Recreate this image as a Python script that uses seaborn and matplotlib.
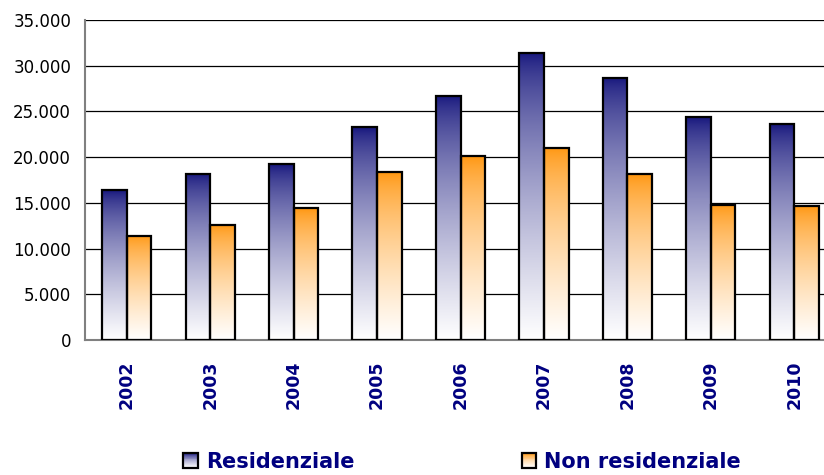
import numpy as np
import pandas as pd
import matplotlib
matplotlib.use("Agg")
import matplotlib.pyplot as plt
from matplotlib.patches import Rectangle
from matplotlib.legend_handler import HandlerBase
import seaborn as sns

years = ["2002", "2003", "2004", "2005", "2006", "2007", "2008", "2009", "2010"]
residenziale = [16400, 18200, 19250, 23250, 26700, 31400, 28700, 24350, 23600]
non_residenziale = [11400, 12600, 14400, 18350, 20100, 21050, 18150, 14800, 14650]
series = ["Residenziale", "Non residenziale"]
y_ticks = [0, 5000, 10000, 15000, 20000, 25000, 30000, 35000]

NAVY = "#000080"
top_colors = {"Residenziale": (0.07, 0.07, 0.48), "Non residenziale": (1.0, 0.58, 0.04)}

df = pd.DataFrame({
    "anno": years * 2,
    "valore": residenziale + non_residenziale,
    "tipo": [series[0]] * len(years) + [series[1]] * len(years),
})

sns.set_style("white")
plt.rcParams["font.family"] = ["DejaVu Sans"]

fig = plt.figure(figsize=(8.24, 4.75), dpi=100)
ax = fig.add_axes([85 / 824, 135 / 475, 751 / 824, 320 / 475])

sns.barplot(data=df, x="anno", y="valore", hue="tipo", hue_order=series,
            order=years, width=0.59, ax=ax, legend=False,
            palette=[top_colors[s] for s in series], saturation=1)


def blend(color, t):
    # t = 0 -> full colour (top), t = 1 -> white (bottom); eased towards white
    w = np.asarray(t) ** 0.65
    c = np.array(color)
    return c * (1 - w)[..., None] + np.ones(3) * w[..., None]


def gradient(color, n=256):
    t = np.linspace(0, 1, n)
    return blend(color, t)[:, None, :]


for name, container in zip(series, ax.containers):
    img = gradient(top_colors[name])
    for patch in container:
        x0, w, h = patch.get_x(), patch.get_width(), patch.get_height()
        im = ax.imshow(img, extent=[x0, x0 + w, 0, h], aspect="auto",
                       origin="upper", zorder=2, interpolation="bilinear")
        im.set_clip_path(patch)
        patch.set_facecolor("none")
        patch.set_edgecolor("black")
        patch.set_linewidth(1.6)
        patch.set_zorder(3)

ax.set_xlim(-0.5, len(years) - 0.5)
ax.set_ylim(0, 35000)
ax.set_yticks(y_ticks)
ax.set_yticklabels([f"{v:,}".replace(",", ".") for v in y_ticks], fontsize=12, color="black")
ax.set_xticks(range(len(years)))
ax.set_xticklabels(years, rotation=90, fontsize=12.5, fontweight="bold", color=NAVY,
                   va="top", ha="center")
ax.tick_params(axis="x", which="major", length=0, pad=15)
ax.set_xticks(np.arange(-0.5, len(years), 1.0), minor=True)
ax.tick_params(axis="x", which="minor", length=6, width=1.2, color="#808080", direction="out")
ax.tick_params(axis="y", length=6, width=1.2, color="#808080", direction="out", pad=4)
ax.set_xlabel("")
ax.set_ylabel("")

ax.yaxis.grid(True, color="black", linewidth=0.9)
ax.set_axisbelow(True)
for side in ["top", "right"]:
    ax.spines[side].set_visible(False)
for side in ["left", "bottom"]:
    ax.spines[side].set_color("#808080")
    ax.spines[side].set_linewidth(1.5)


class GradientBoxHandler(HandlerBase):
    def __init__(self, color):
        super().__init__()
        self.color = color

    def create_artists(self, legend, orig_handle, xdescent, ydescent,
                       width, height, fontsize, trans):
        artists = []
        n = 16
        side = height
        x0 = -xdescent + (width - side) / 2
        y0 = -ydescent
        for i in range(n):
            t = 1 - i / (n - 1)  # bottom stripe is white
            col = blend(self.color, np.array([t]))[0]
            artists.append(Rectangle((x0, y0 + side * i / n), side, side / n,
                                     facecolor=col, edgecolor="none", transform=trans))
        artists.append(Rectangle((x0, y0), side, side, facecolor="none",
                                 edgecolor="black", linewidth=1.6, transform=trans))
        return artists


handles = [Rectangle((0, 0), 1, 1) for _ in series]
leg = fig.legend(handles, series, loc="center", bbox_to_anchor=(0.561, 0.028), ncol=2,
                 frameon=False, handlelength=0.72, handleheight=0.72, handletextpad=0.38,
                 columnspacing=8.0,
                 handler_map={h: GradientBoxHandler(top_colors[s]) for h, s in zip(handles, series)},
                 prop={"size": 15, "weight": "bold"})
for txt in leg.get_texts():
    txt.set_color(NAVY)

fig.savefig("out.png", dpi=100)
